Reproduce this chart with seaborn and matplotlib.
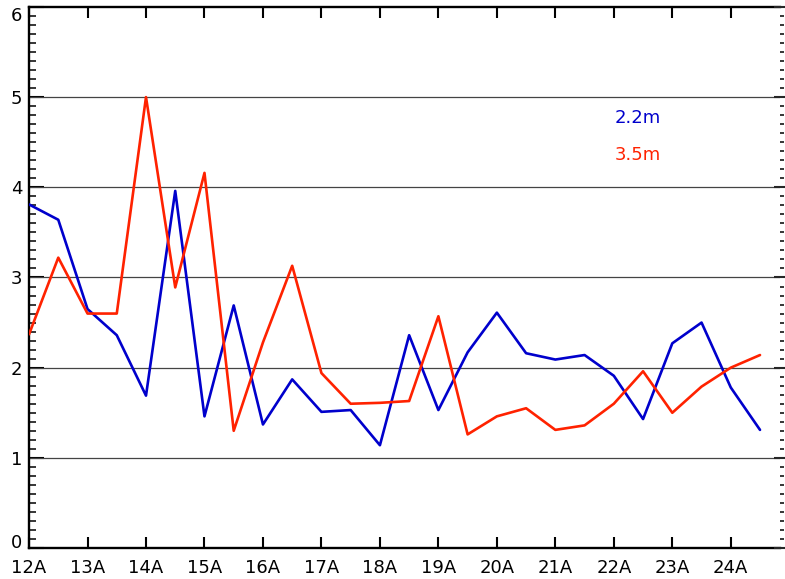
import numpy as np
import pandas as pd
import matplotlib
matplotlib.use('Agg')
import matplotlib.pyplot as plt
import matplotlib.transforms as mtransforms
import seaborn as sns
from matplotlib.ticker import MultipleLocator

# hours (half-step), tick labels
hours = [12 + 0.5 * i for i in range(26)]
tick_pos = list(range(12, 25))
tick_labels = ['%dA' % h for h in tick_pos]

# series values
h22 = [3.81, 3.64, 2.65, 2.36, 1.69, 3.96, 1.46, 2.69, 1.37, 1.87,
       1.51, 1.53, 1.14, 2.36, 1.53, 2.17, 2.61, 2.16, 2.09, 2.14,
       1.91, 1.43, 2.27, 2.50, 1.78, 1.31]
h35 = [2.37, 3.22, 2.60, 2.60, 5.00, 2.89, 4.16, 1.30, 2.28, 3.13,
       1.94, 1.60, 1.61, 1.63, 2.57, 1.26, 1.46, 1.55, 1.31, 1.36,
       1.60, 1.96, 1.50, 1.79, 2.00, 2.14]
series_names = ['2.2m', '3.5m']
colors = {'2.2m': '#0000cc', '3.5m': '#ff2200'}

df = pd.DataFrame({'hour': hours * 2,
                   'value': h22 + h35,
                   'height': ['2.2m'] * len(hours) + ['3.5m'] * len(hours)})

sns.set_style('white')
plt.rcParams['font.family'] = ['DejaVu Sans']

fig = plt.figure(figsize=(7.85, 5.79), dpi=100)
ax = fig.add_axes([0.037, 0.0535, 0.9565, 0.9345])

# horizontal grid lines
for yv in range(1, 6):
    ax.axhline(yv, color='#444444', lw=0.9, zorder=1)

sns.lineplot(data=df, x='hour', y='value', hue='height', palette=colors,
             linewidth=1.9, legend=False, ax=ax, zorder=3)

ax.set_xlim(12, 24.84)
ax.set_ylim(0, 6)
ax.set_xlabel('')
ax.set_ylabel('')
ax.set_xticks(tick_pos)
ax.set_xticklabels(tick_labels, fontsize=13)
ax.yaxis.set_major_locator(MultipleLocator(1))
ax.yaxis.set_minor_locator(MultipleLocator(0.1))
ax.tick_params(axis='y', labelsize=13)

for s in ['left', 'bottom', 'top']:
    ax.spines[s].set_visible(True)
    ax.spines[s].set_linewidth(1.7)
    ax.spines[s].set_color('black')
ax.spines['right'].set_visible(False)

ax.tick_params(axis='x', which='major', direction='in', length=8, width=1.5,
               top=True, bottom=True, pad=8, colors='black')
ax.tick_params(axis='y', which='major', direction='in', length=11, width=1.5,
               left=True, right=False, pad=5, colors='black')
ax.tick_params(axis='y', which='minor', direction='in', length=5, width=1.3,
               left=True, right=False)

# keep the end labels inside the axis range, like the original
fig.canvas.draw()
ylabs = ax.get_yticklabels()
for lab in ylabs:
    if lab.get_text() == '0':
        lab.set_transform(lab.get_transform() +
                          mtransforms.ScaledTranslation(0, 5 / 72, fig.dpi_scale_trans))
    if lab.get_text() == '6':
        lab.set_transform(lab.get_transform() +
                          mtransforms.ScaledTranslation(0, -5 / 72, fig.dpi_scale_trans))

# right side ticks
ax2 = ax.twinx()
ax2.set_ylim(0, 6)
ax2.yaxis.set_major_locator(MultipleLocator(1))
ax2.yaxis.set_minor_locator(MultipleLocator(0.1))
for s in ax2.spines.values():
    s.set_visible(False)
ax2.tick_params(axis='y', which='major', direction='inout', length=9, width=1.5,
                labelright=False)
ax2.tick_params(axis='y', which='minor', direction='out', length=3, width=1.3)

# series labels
ax.text(22.02, 4.77, series_names[0], color=colors['2.2m'], fontsize=13,
        va='center', ha='left')
ax.text(22.02, 4.36, series_names[1], color=colors['3.5m'], fontsize=13,
        va='center', ha='left')

fig.savefig('out.png', dpi=100)
